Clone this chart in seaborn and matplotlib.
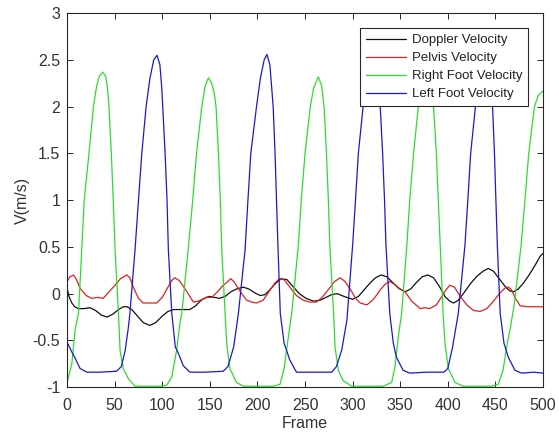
import pandas as pd
import matplotlib
matplotlib.use("Agg")
import matplotlib.pyplot as plt
import seaborn as sns

# (frame, velocity) pairs
doppler = [(0, 0.06), (2, -0.03), (5, -0.10), (8, -0.14), (12, -0.16), (18, -0.16), (24, -0.15),
           (30, -0.18), (36, -0.23), (42, -0.25), (48, -0.22), (54, -0.17), (59, -0.14), (63, -0.14),
           (68, -0.17), (74, -0.24), (80, -0.31), (87, -0.34), (93, -0.31), (100, -0.24), (106, -0.19),
           (112, -0.17), (120, -0.17), (129, -0.17), (135, -0.13), (141, -0.07), (146, -0.04), (150, -0.03),
           (155, -0.04), (160, -0.05), (166, -0.03), (172, 0.02), (178, 0.05), (185, 0.07), (191, 0.05),
           (197, 0.01), (203, -0.02), (208, -0.01), (213, 0.04), (219, 0.11), (225, 0.16), (231, 0.15),
           (237, 0.08), (244, 0.0), (251, -0.05), (259, -0.08), (266, -0.07), (272, -0.04), (278, -0.01),
           (284, 0.0), (291, -0.03), (300, -0.06), (306, -0.03), (312, 0.04), (318, 0.11), (324, 0.17),
           (330, 0.20), (336, 0.18), (342, 0.12), (348, 0.06), (355, 0.02), (361, 0.05), (367, 0.12),
           (373, 0.18), (379, 0.20), (385, 0.17), (391, 0.08), (397, -0.03), (402, -0.08), (406, -0.10),
           (411, -0.07), (417, 0.01), (424, 0.11), (431, 0.19), (437, 0.24), (442.5, 0.27), (448, 0.24),
           (454, 0.16), (460, 0.08), (465, 0.03), (469, 0.02), (474, 0.05), (480, 0.12), (486, 0.21),
           (492, 0.31), (497, 0.40), (500, 0.43)]

pelvis = [(0, 0.13), (3, 0.18), (6.7, 0.20), (10, 0.15), (13.6, 0.06), (20, -0.02), (26, -0.05), (32, -0.04),
          (38, -0.05), (44, 0.02), (50.4, 0.09), (56, 0.16), (62.7, 0.20), (66, 0.17), (70, 0.06), (75, -0.05),
          (80, -0.10), (87, -0.10), (94, -0.10), (100, -0.04), (106, 0.07), (110, 0.14), (113, 0.17),
          (118, 0.14), (124, 0.05), (132.7, -0.09), (138, -0.08), (146.7, -0.04), (152, -0.04), (158, 0.02),
          (164, 0.09), (167.7, 0.12), (172, 0.16), (176, 0.12), (182, 0.02), (188.7, -0.07), (194, -0.09),
          (199, -0.10), (206, -0.07), (212, 0.02), (218, 0.11), (223, 0.16), (228, 0.15), (234, 0.07),
          (241, -0.02), (248, -0.07), (255, -0.09), (262, -0.09), (268, -0.04), (275, 0.05), (281, 0.13),
          (287, 0.17), (292, 0.13), (298, 0.04), (303, -0.05), (308, -0.10), (315, -0.12), (322, -0.06),
          (329, 0.04), (334, 0.10), (339, 0.13), (344, 0.10), (350, 0.05), (355, 0.02), (362, -0.08),
          (371, -0.16), (376, -0.15), (381, -0.16), (388, -0.12), (393, -0.04), (398, 0.04), (402, 0.09),
          (407, 0.07), (413, -0.03), (420, -0.12), (427, -0.18), (434, -0.19), (441, -0.16), (448, -0.08),
          (455, 0.01), (460, 0.06), (463.5, 0.07), (467, 0.04), (471, -0.05), (476, -0.13), (484, -0.14),
          (492, -0.14), (500, -0.14)]

right_foot = [(0, -0.95), (5, -0.75), (8.4, -0.39), (12, -0.21), (15.4, 0.47), (18, 1.0), (23, 1.5),
              (27.7, 2.0), (31, 2.22), (34, 2.33), (37.5, 2.37), (40.5, 2.33), (42.5, 2.2), (44, 2.0),
              (46.5, 1.5), (48.5, 1.0), (50.4, 0.47), (54, -0.21), (55.7, -0.61), (59, -0.80), (64.4, -0.91),
              (71.4, -0.99), (85, -0.99), (97.7, -0.99), (104.7, -0.98), (110, -0.89), (115, -0.61),
              (118.5, -0.32), (120.5, -0.21), (127, 0.45), (132, 1.0), (136, 1.5), (141.5, 2.0), (145, 2.22),
              (148.5, 2.31), (152, 2.25), (154.5, 2.15), (156.5, 2.0), (159, 1.5), (161, 1.0), (162.5, 0.47),
              (166, -0.21), (167.7, -0.53), (171, -0.80), (178, -0.95), (185, -0.99), (200, -0.99),
              (216.7, -0.99), (223.7, -0.97), (228, -0.80), (232.5, -0.46), (236, -0.21), (243, 0.52),
              (246, 1.0), (250, 1.5), (255.5, 2.0), (259, 2.2), (264, 2.32), (267.5, 2.22), (270, 2.0),
              (272.5, 1.5), (274.5, 1.0), (276, 0.52), (280, -0.21), (281.5, -0.57), (285, -0.82),
              (290, -0.93), (299, -0.99), (315, -0.99), (332, -0.99), (341, -0.95), (344.5, -0.78),
              (348, -0.46), (351.5, -0.21), (357, 0.52), (360, 1.0), (364, 1.5), (369, 2.0), (372.5, 2.18),
              (377, 2.26), (381, 2.18), (385, 2.0), (388, 1.5), (390, 1.0), (392, 0.52), (395, -0.21),
              (397, -0.53), (400.5, -0.80), (407.5, -0.95), (416, -0.99), (430, -0.99), (446, -0.99),
              (453, -0.97), (458, -0.82), (462.5, -0.53), (466, -0.35), (470, -0.1), (477, 0.52), (481, 1.0),
              (485, 1.5), (491, 2.0), (495, 2.12), (500, 2.17)]

left_foot = [(0, -0.52), (4.8, -0.62), (8.4, -0.69), (13.6, -0.80), (20.7, -0.84), (35, -0.84), (52, -0.83),
             (57, -0.78), (61, -0.61), (64.4, -0.36), (66, -0.21), (71.4, 0.47), (75, 1.0), (78.5, 1.5),
             (83, 2.0), (87, 2.3), (91, 2.5), (94.5, 2.55), (97.5, 2.45), (99.5, 2.2), (100.5, 2.0),
             (103, 1.5), (105, 1.0), (106.4, 0.47), (110, -0.21), (113.7, -0.57), (117, -0.64), (122, -0.77),
             (129, -0.84), (145, -0.84), (164, -0.83), (169, -0.78), (175, -0.57), (180, -0.21), (187, 0.47),
             (190, 1.0), (193, 1.5), (199, 2.0), (203, 2.3), (207, 2.5), (210, 2.56), (213, 2.45),
             (215, 2.2), (216.5, 2.0), (218.5, 1.5), (220, 1.0), (221.5, 0.52), (224, -0.21), (228, -0.53),
             (234, -0.71), (241, -0.84), (260, -0.84), (278, -0.84), (283, -0.78), (288.6, -0.6),
             (294, -0.28), (300, 0.52), (303, 1.0), (306, 1.5), (311, 2.0), (315, 2.3), (319, 2.48),
             (322, 2.52), (325, 2.45), (327.5, 2.2), (329, 2.0), (331.5, 1.5), (333.5, 1.0), (335, 0.52),
             (339, -0.21), (342.7, -0.53), (346, -0.68), (353, -0.82), (360, -0.85), (378, -0.84),
             (396, -0.84), (400, -0.80), (405, -0.57), (411, -0.21), (418, 0.52), (421, 1.0), (424, 1.5),
             (429, 2.0), (433, 2.3), (437, 2.48), (440, 2.52), (443, 2.45), (445.5, 2.2), (447, 2.0),
             (449, 1.5), (450.5, 1.0), (452, 0.52), (455, -0.21), (459, -0.53), (463.5, -0.68),
             (470.5, -0.82), (477.6, -0.85), (490, -0.84), (500, -0.85)]

series_names = ["Doppler Velocity", "Pelvis Velocity", "Right Foot Velocity", "Left Foot Velocity"]
series_data = [doppler, pelvis, right_foot, left_foot]
colors = ["#111111", "#e02020", "#2edc2e", "#1a1acc"]

rows = []
for name, pts in zip(series_names, series_data):
    for f, v in pts:
        rows.append({"Frame": f, "V": v, "series": name})
df = pd.DataFrame(rows)

sns.set_style("ticks")
plt.rcParams["font.family"] = ["Liberation Sans", "DejaVu Sans"]
text_col = "#333333"

fig = plt.figure(figsize=(5.59, 4.34), dpi=100)
ax = fig.add_axes([0.12, 0.108, 0.8514, 0.8614])

sns.lineplot(data=df, x="Frame", y="V", hue="series", hue_order=series_names,
             palette=dict(zip(series_names, colors)), estimator=None, sort=False,
             linewidth=0.9, ax=ax)

ax.set_xlim(0, 500)
ax.set_ylim(-1, 3)
ax.set_xticks(range(0, 501, 50))
ax.set_yticks([-1, -0.5, 0, 0.5, 1, 1.5, 2, 2.5, 3])
ax.set_yticklabels(["-1", "-0.5", "0", "0.5", "1", "1.5", "2", "2.5", "3"])
ax.tick_params(direction="in", top=True, right=True, length=4, width=0.7,
               colors="#262626", labelcolor=text_col, labelsize=11.5)
ax.tick_params(axis="x", pad=8)
ax.tick_params(axis="y", pad=5)
for s in ax.spines.values():
    s.set_visible(True)
    s.set_color("#262626")
    s.set_linewidth(0.8)

ax.set_xlabel("Frame", fontsize=11.5, color=text_col, labelpad=2)
ax.set_ylabel("V(m/s)", fontsize=11.5, color=text_col, labelpad=2)

handles, labels = ax.get_legend_handles_labels()
leg = ax.legend(handles, labels, loc="upper right", bbox_to_anchor=(0.9685, 0.9607),
                fontsize=9.5, frameon=True, fancybox=False, framealpha=1,
                edgecolor="#262626", borderpad=0.45, handlelength=3.0,
                handletextpad=0.45, labelspacing=0.44, borderaxespad=0)
leg.get_frame().set_linewidth(0.8)
for t in leg.get_texts():
    t.set_color("#222222")

fig.savefig("out.png", dpi=100)
